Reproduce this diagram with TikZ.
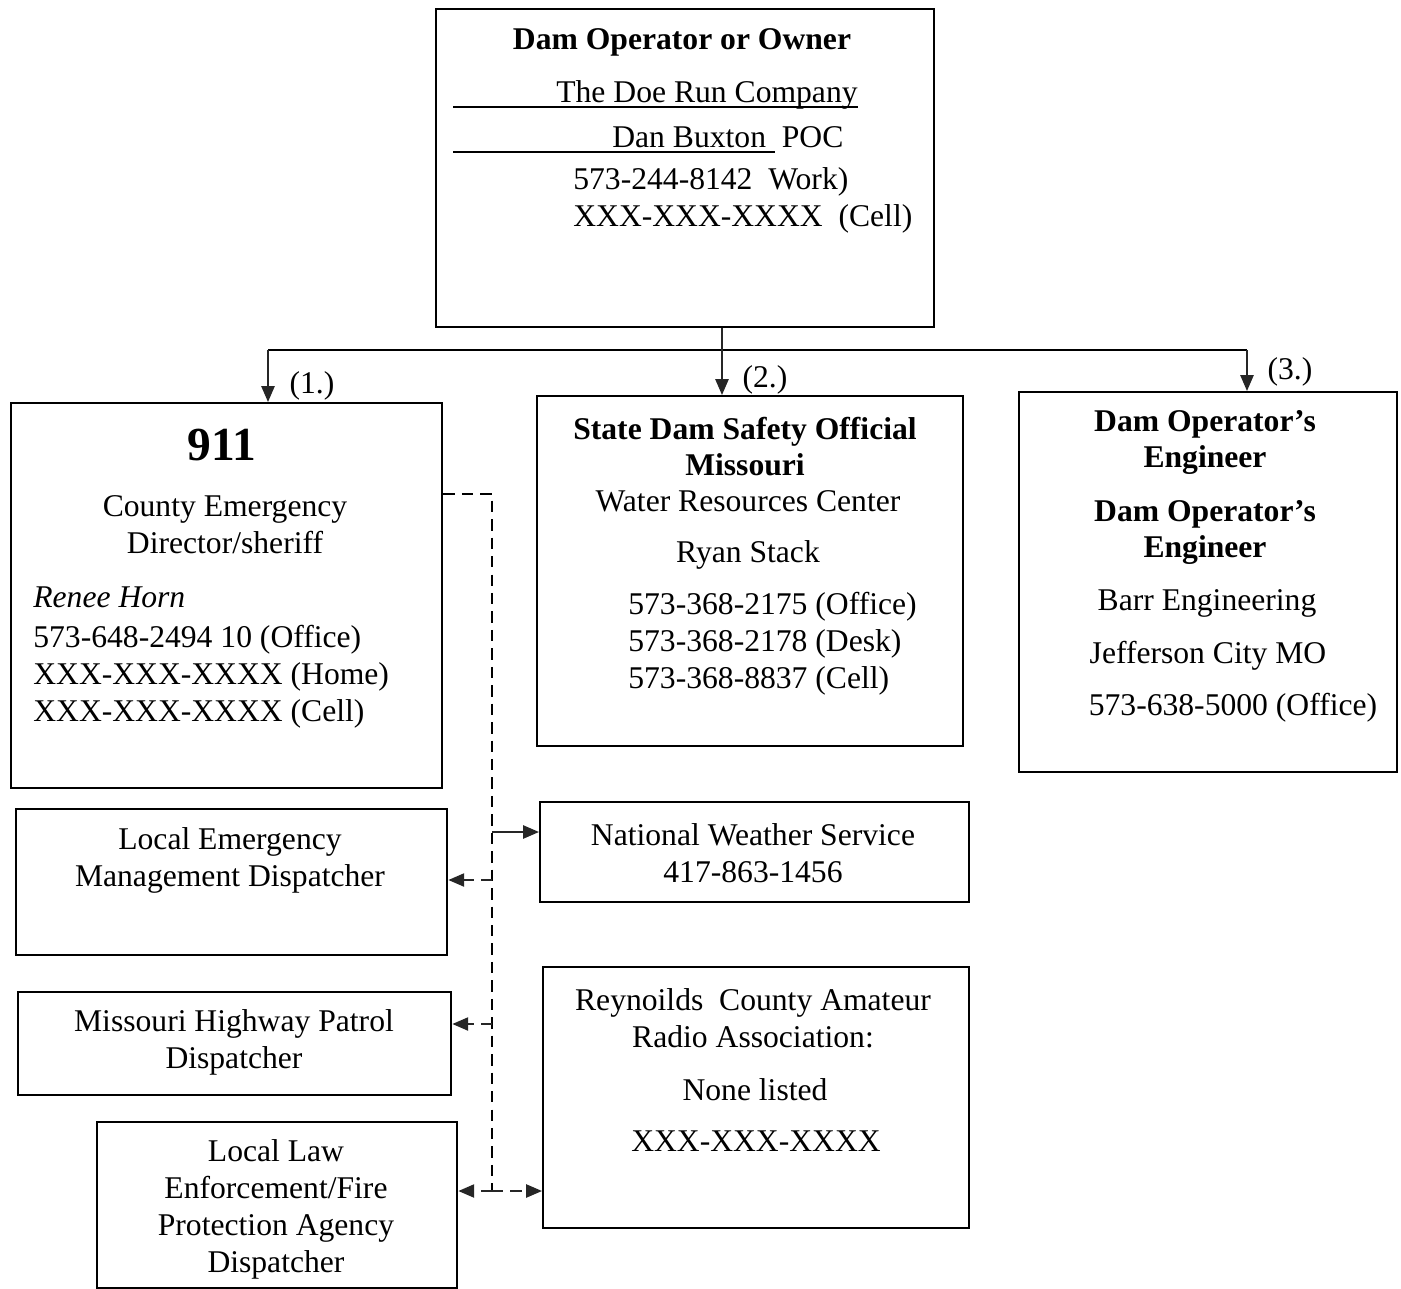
\documentclass[tikz,border=0pt]{standalone}
\usepackage{fontspec}
\setmainfont{Liberation Serif}
\usetikzlibrary{positioning, arrows.meta}

\tikzset{
  box/.style={draw, line width=1.4pt, anchor=north west, inner sep=0pt},
  txt/.style={font=\fontsize{18}{21}\selectfont, inner sep=0pt, align=center, yshift=-0.05cm},
  head/.style={txt, font=\fontsize{18}{21}\selectfont\bfseries},
  conn/.style={line width=1pt},
  arr/.style={conn, -{Triangle[length=9pt,width=7.5pt]}, color=black!85},
  dline/.style={conn, dash pattern=on 6.5pt off 4pt},
  darr/.style={dline, -{Triangle[length=9pt,width=7.5pt]}, color=black!85},
}

\begin{document}
\begin{tikzpicture}[x=0.02cm, y=-0.02cm]
\useasboundingbox (0,0) rectangle (1401,1289);

\node[box, minimum width=9.96cm, minimum height=6.36cm] (owner) at (435,8) {};
\node[box, minimum width=8.62cm, minimum height=7.70cm] (n911) at (10,402) {};
\node[box, minimum width=8.52cm, minimum height=7.00cm] (state) at (536,395) {};
\node[box, minimum width=7.56cm, minimum height=7.60cm] (engineer) at (1018,391) {};
\node[box, minimum width=8.62cm, minimum height=2.92cm] (lemd) at (15,808) {};
\node[box, minimum width=8.58cm, minimum height=2.00cm] (nws) at (539,801) {};
\node[box, minimum width=8.66cm, minimum height=2.06cm] (mhp) at (17,991) {};
\node[box, minimum width=8.52cm, minimum height=5.22cm] (radio) at (542,966) {};
\node[box, minimum width=7.20cm, minimum height=3.32cm] (law) at (96,1121) {};

\node[head] (ownerHead) at (682,40) {Dam Operator or Owner};
\node[txt, anchor=west] (ownerCo) at (556,92) {The Doe Run Company};
\draw[conn] (453,107) -- (858,107);
\node[txt, anchor=west] (ownerPoc) at (612,135) {Dan Buxton\ \ POC};
\draw[conn] (453,152) -- (775,152);
\node[txt, anchor=west, align=left] (ownerTel) at (573,198) {573-244-8142\ \ Work)\\XXX-XXX-XXXX\ \ (Cell)};

\node[txt, font=\fontsize{27}{30}\selectfont\bfseries] (n911Head) at (222,443) {911};
\node[txt] (n911Role) at (225,522) {County Emergency\\Director/sheriff};
\node[txt, anchor=west, font=\fontsize{18}{21}\selectfont\itshape] (n911Name) at (33,595) {Renee Horn};
\node[txt, anchor=west, align=left] (n911Tel) at (33,674) {573-648-2494 10 (Office)\\XXX-XXX-XXXX (Home)\\XXX-XXX-XXXX (Cell)};

\node[head] (stateHead) at (745,444) {State Dam Safety Official\\Missouri};
\node[txt] (stateOrg) at (748,499) {Water Resources Center};
\node[txt] (stateName) at (748,552) {Ryan Stack};
\node[txt, anchor=west, align=left] (stateTel) at (628,641) {573-368-2175 (Office)\\573-368-2178 (Desk)\\573-368-8837 (Cell)};

\node[head] (engHeadA) at (1205,440) {Dam Operator's\\Engineer};
\node[head] (engHeadB) at (1205,530) {Dam Operator's\\Engineer};
\node[txt] (engOrg) at (1207,601) {Barr Engineering};
\node[txt] (engCity) at (1208,653) {Jefferson City MO};
\node[txt] (engTel) at (1233,705) {573-638-5000 (Office)};

\node[txt] (lemdText) at (230,858) {Local Emergency\\Management Dispatcher};
\node[txt] (nwsText) at (753,851) {National Weather Service\\417-863-1456};
\node[txt] (mhpText) at (234,1040) {Missouri Highway Patrol\\Dispatcher};
\node[txt] (radioText) at (753,1016) {Reynoilds\ \ County Amateur\\Radio Association:};
\node[txt] (radioNone) at (755,1087) {None listed};
\node[txt] (radioTel) at (756,1139) {XXX-XXX-XXXX};
\node[txt] (lawText) at (276,1207) {Local Law\\Enforcement/Fire\\Protection Agency\\Dispatcher};

\coordinate (b1) at (268,350);
\coordinate (b2) at (722,350);
\coordinate (b3) at (1247,350);
\draw[conn] (b1) -- (b3);
\draw[arr] (b1) -- (b1 |- n911.north);
\draw[arr] (owner.south -| b2) -- (b2 |- state.north);
\draw[arr] (b3) -- (b3 |- engineer.north);
\node[txt] (lab1) at (312,383) {(1.)};
\node[txt] (lab2) at (765,377) {(2.)};
\node[txt] (lab3) at (1290,369) {(3.)};

\coordinate (dtop) at (492,494);
\coordinate (dbot) at (492,1191);
\coordinate (j1) at (492,832);
\coordinate (j2) at (492,880);
\coordinate (j3) at (492,1024);
\draw[dline] (n911.east |- dtop) -- (dtop) -- (dbot);
\draw[arr] (j1) -- (j1 -| nws.west);
\draw[darr] (j2) -- (j2 -| lemd.east);
\draw[darr] (j3) -- (j3 -| mhp.east);
\draw[darr] (dbot) -- (dbot -| law.east);
\draw[darr] (dbot) -- (dbot -| radio.west);
\end{tikzpicture}
\end{document}
